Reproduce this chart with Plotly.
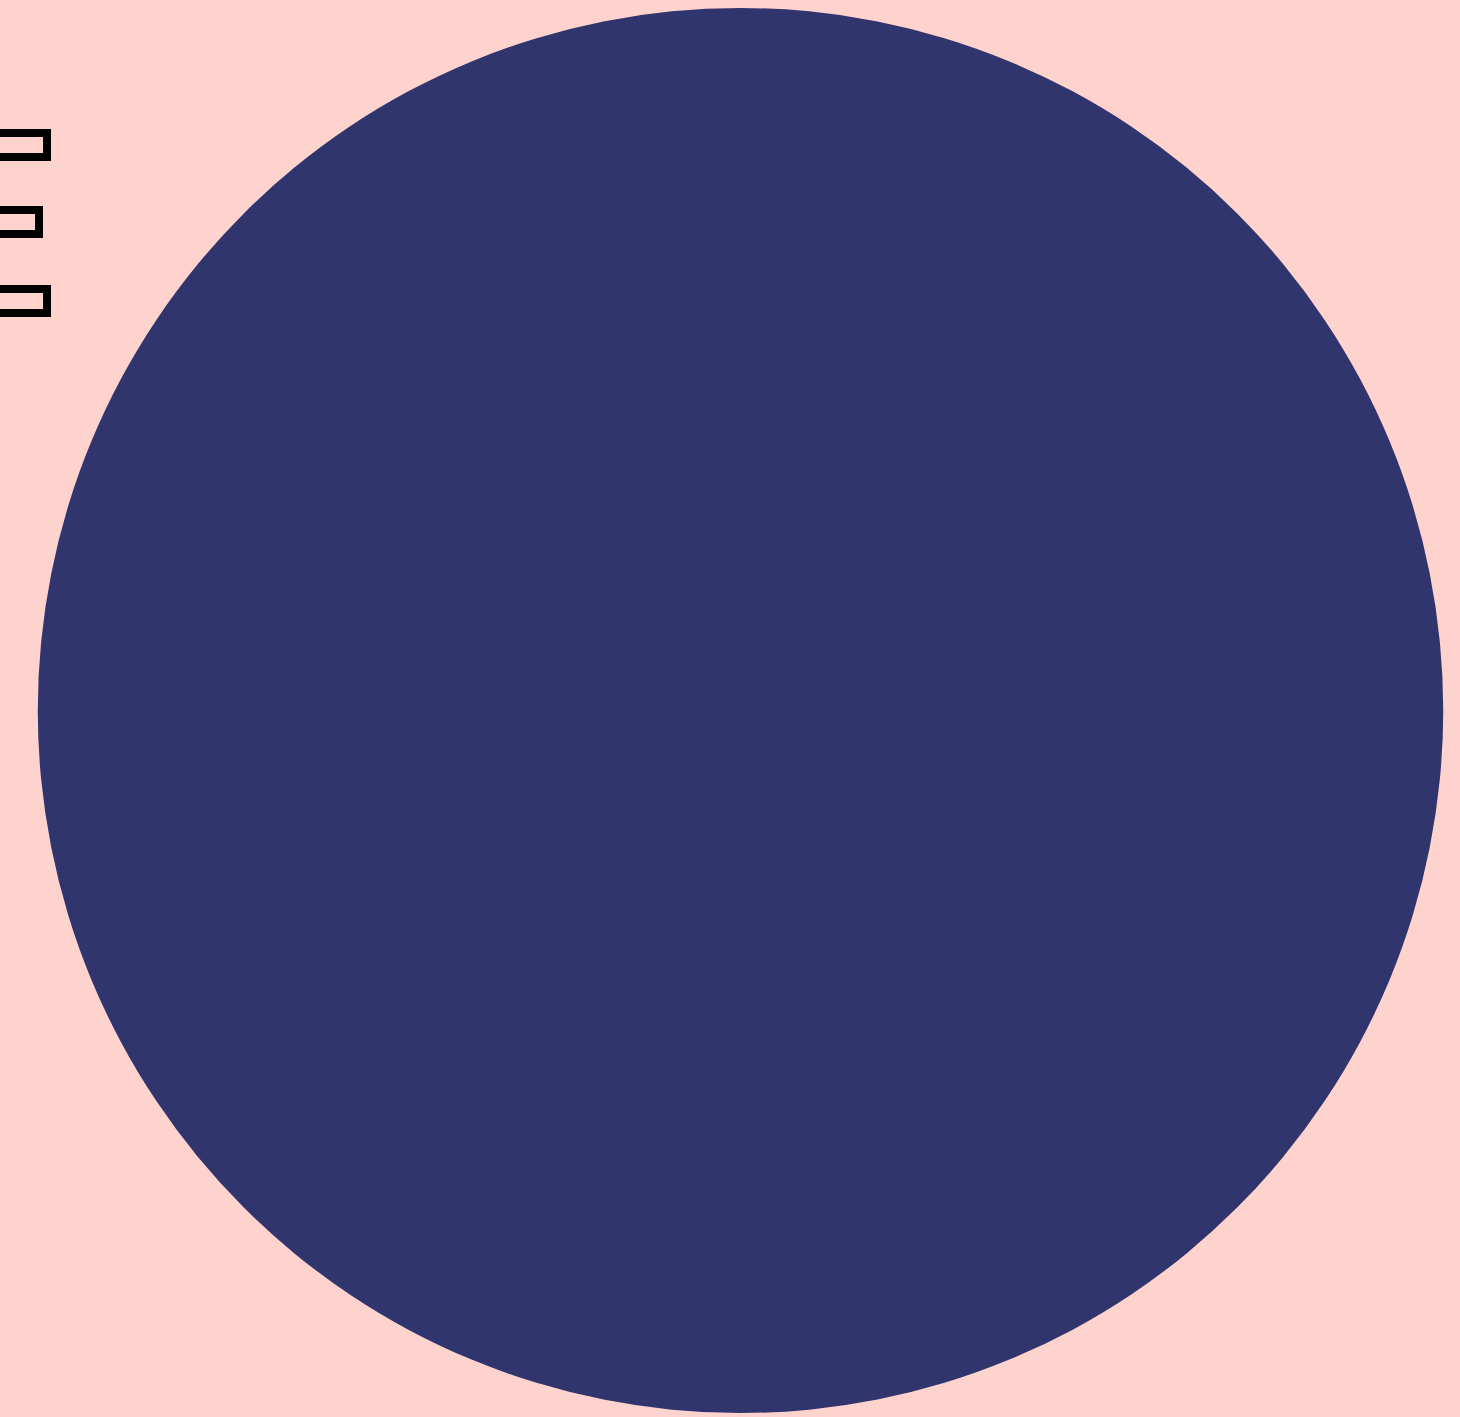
import plotly.graph_objects as go

# ---- data ----
labels = ["Categoría A", "Categoría B", "Categoría C"]
values = [100, 0, 0]
colors = ["#31356E", "#5B6C9E", "#9AA8CF"]

# ---- layout constants ----
W, H = 1460, 1417
M = dict(l=21, r=0, t=8, b=4)
BG = "#FFD3CD"

fig = go.Figure(go.Pie(
    labels=labels, values=values, sort=False, direction="clockwise", rotation=0,
    marker=dict(colors=colors, line=dict(width=0)),
    textinfo="none", hoverinfo="label+percent", showlegend=False,
))

# legend-like label boxes at left edge (partly cut off by the page edge)
plot_w = W - M["l"] - M["r"]
plot_h = H - M["t"] - M["b"]
box_right_px = [50.7, 43.3, 50.7]
box_mid_px = [144.8, 222.0, 300.5]
anns = []
for lab, rx, my in zip(labels, box_right_px, box_mid_px):
    anns.append(dict(
        text=lab, showarrow=False, xref="paper", yref="paper",
        x=(rx - M["l"]) / plot_w, y=(H - M["b"] - my) / plot_h,
        xanchor="right", yanchor="middle", align="left",
        width=200, height=16, borderpad=0, borderwidth=8,
        bordercolor="#000000", bgcolor="rgba(0,0,0,0)",
        font=dict(size=12, color="#000000"),
    ))

fig.update_layout(
    width=W, height=H, margin=M,
    paper_bgcolor=BG, plot_bgcolor=BG,
    annotations=anns,
)
fig.write_html("out.html", post_script="document.body.style.margin='0';",
               config={"displayModeBar": False})
